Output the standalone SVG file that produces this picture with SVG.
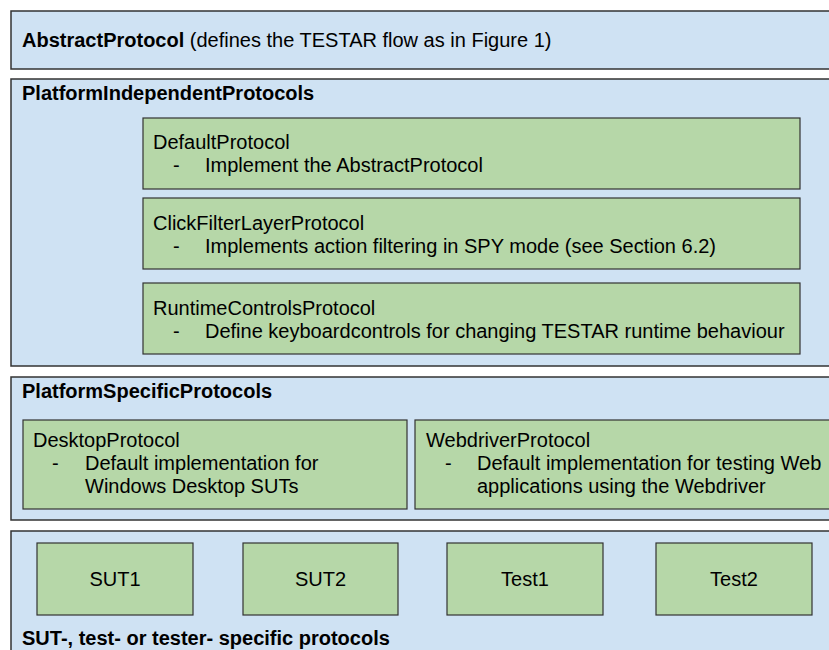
<svg xmlns="http://www.w3.org/2000/svg" width="829" height="650" viewBox="0 0 829 650">
<style>
.cont{fill:#cfe2f3;stroke:#333;stroke-width:1.5}
.box{fill:#b6d7a8;stroke:#333;stroke-width:1.2}
text{font-family:"Liberation Sans",Arial,sans-serif;font-size:20px;fill:#000}
.b{font-weight:bold}
.c{text-anchor:middle}
</style>
<rect x="0" y="0" width="829" height="650" fill="#fff"/>
<g id="abstract">
<rect class="cont" x="11" y="11" width="830" height="58"/>
<text x="22" y="47"><tspan class="b">AbstractProtocol</tspan> (defines the TESTAR flow as in Figure 1)</text>
</g>
<g id="independent">
<rect class="cont" x="11" y="79" width="830" height="287"/>
<text class="b" x="22" y="100">PlatformIndependentProtocols</text>
</g>
<g id="default">
<rect class="box" x="143" y="118" width="657" height="71"/>
<text x="153" y="149">DefaultProtocol</text>
<text x="173" y="172">-</text>
<text x="205" y="172">Implement the AbstractProtocol</text>
</g>
<g id="clickfilter">
<rect class="box" x="143" y="198" width="657" height="71"/>
<text x="153" y="230">ClickFilterLayerProtocol</text>
<text x="173" y="253">-</text>
<text x="205" y="253">Implements action filtering in SPY mode (see Section 6.2)</text>
</g>
<g id="runtime">
<rect class="box" x="143" y="283" width="657" height="71"/>
<text x="153" y="315">RuntimeControlsProtocol</text>
<text x="173" y="338">-</text>
<text x="205" y="338">Define keyboardcontrols for changing TESTAR runtime behaviour</text>
</g>
<g id="specific">
<rect class="cont" x="11" y="377" width="830" height="143"/>
<text class="b" x="22" y="398">PlatformSpecificProtocols</text>
</g>
<g id="desktop">
<rect class="box" x="23" y="420" width="384" height="89"/>
<text x="33" y="447">DesktopProtocol</text>
<text x="52" y="470">-</text>
<text x="85" y="470">Default implementation for</text>
<text x="85" y="493">Windows Desktop SUTs</text>
</g>
<g id="webdriver">
<rect class="box" x="415" y="420" width="430" height="89"/>
<text x="426" y="447">WebdriverProtocol</text>
<text x="445" y="470">-</text>
<text x="477" y="470">Default implementation for testing Web</text>
<text x="477" y="493">applications using the Webdriver</text>
</g>
<g id="sut-specific">
<rect class="cont" x="11" y="531" width="830" height="130"/>
<text class="b" x="22" y="645">SUT-, test- or tester- specific protocols</text>
</g>
<g id="sut1">
<rect class="box" x="37" y="543" width="156" height="72"/>
<text class="c" x="115" y="586">SUT1</text>
</g>
<g id="sut2">
<rect class="box" x="243" y="543" width="155" height="72"/>
<text class="c" x="320.5" y="586">SUT2</text>
</g>
<g id="test1">
<rect class="box" x="447" y="543" width="156" height="72"/>
<text class="c" x="525" y="586">Test1</text>
</g>
<g id="test2">
<rect class="box" x="656" y="543" width="156" height="72"/>
<text class="c" x="734" y="586">Test2</text>
</g>
<g id="connectors"></g>
</svg>
